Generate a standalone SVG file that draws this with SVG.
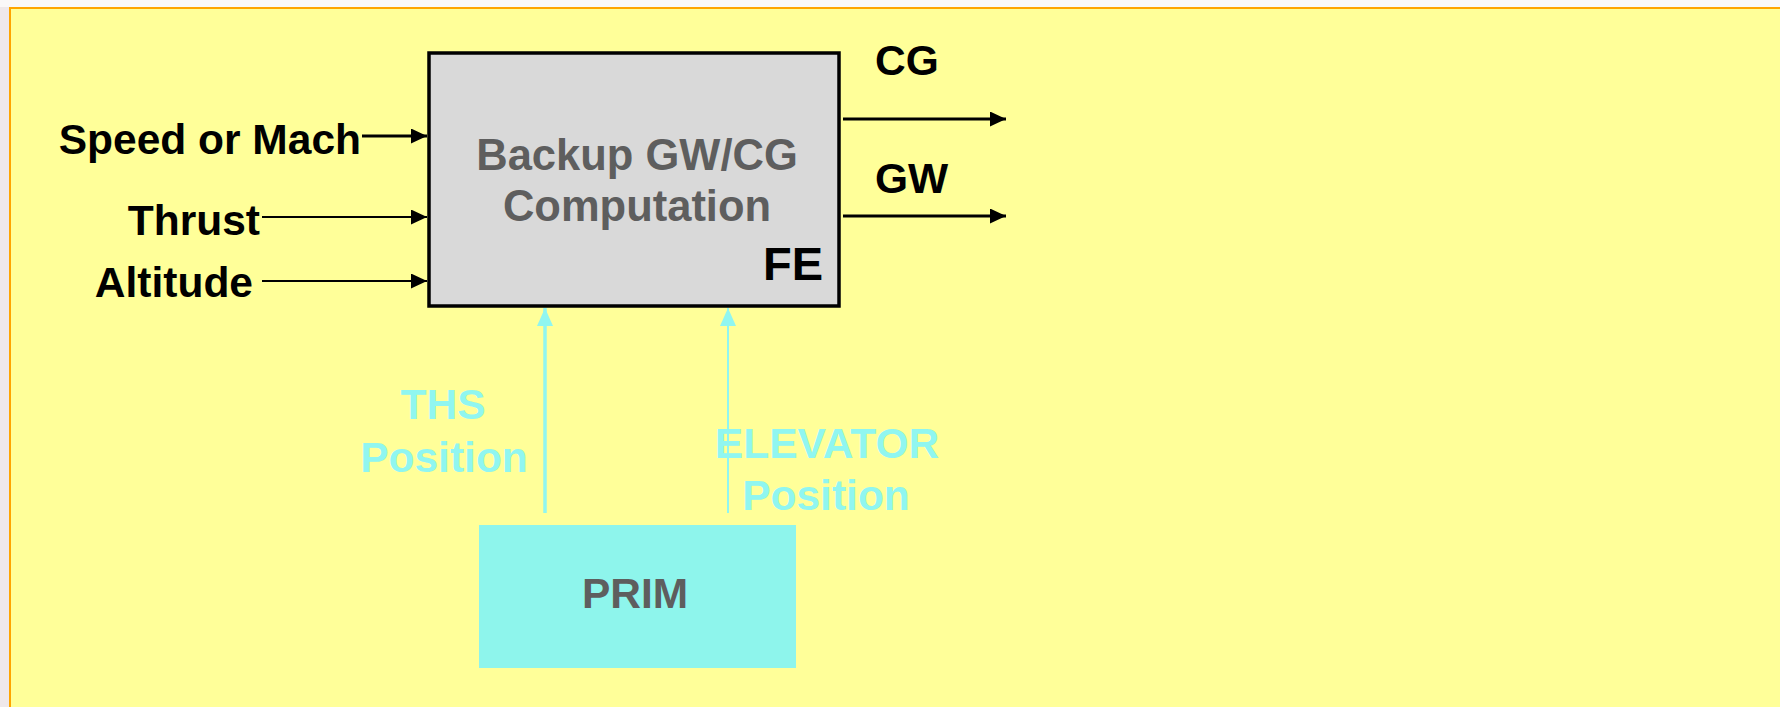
<svg xmlns="http://www.w3.org/2000/svg" width="1780" height="707" viewBox="0 0 1780 707">
<defs>
<marker id="ah" viewBox="0 0 10 10" refX="10" refY="5" markerWidth="16" markerHeight="15" markerUnits="userSpaceOnUse" orient="auto" preserveAspectRatio="none"><path d="M0,0 L10,5 L0,10 z" fill="#000"/></marker>
<marker id="ahc" viewBox="0 0 10 10" refX="10" refY="5" markerWidth="18" markerHeight="16" markerUnits="userSpaceOnUse" orient="auto" preserveAspectRatio="none"><path d="M0,0 L10,5 L0,10 z" fill="#90f6f0"/></marker>
<style>
.t{font-family:"Liberation Sans",Arial,sans-serif;font-weight:bold;font-size:42.5px}
.blk{fill:#000}
.gry{fill:#5e5e5e}
.cy{fill:#90f6f0}
.k{stroke:#000;fill:none}
.c{stroke:#90f6f0;fill:none}
</style>
</defs>
<rect x="0" y="0" width="1780" height="707" fill="#faf8f8"/>
<rect x="0" y="7" width="10" height="700" fill="#efe8ea"/>
<rect x="10" y="8" width="1775" height="705" fill="#ffff99" stroke="#ffa500" stroke-width="2"/>

<g id="fe-box">
<rect x="429" y="53" width="410" height="253" fill="#d9d9d9" stroke="#000" stroke-width="3.5"/>
<text class="t gry" x="637" y="170" text-anchor="middle" style="font-size:43.5px">Backup GW/CG</text>
<text class="t gry" x="637" y="221" text-anchor="middle" style="font-size:43.5px">Computation</text>
<text class="t blk" x="823" y="280" text-anchor="end" style="font-size:47px">FE</text>
</g>

<g id="prim">
<rect x="479" y="525" width="317" height="143" fill="#8ef5ec"/>
<text class="t gry" x="635" y="608" text-anchor="middle">PRIM</text>
</g>

<g id="labels">
<text class="t blk" x="361" y="154" text-anchor="end">Speed or Mach</text>
<text class="t blk" x="260" y="235" text-anchor="end">Thrust</text>
<text class="t blk" x="253" y="297" text-anchor="end">Altitude</text>
<text class="t blk" x="875" y="75">CG</text>
<text class="t blk" x="875" y="193">GW</text>
<text class="t cy" x="443" y="419" text-anchor="middle">THS</text>
<text class="t cy" x="444" y="472" text-anchor="middle">Position</text>
<text class="t cy" x="827" y="458" text-anchor="middle">ELEVATOR</text>
<text class="t cy" x="826" y="510" text-anchor="middle">Position</text>
</g>

<g id="connectors">
<line class="k" x1="362" y1="136" x2="427" y2="136" stroke-width="3" marker-end="url(#ah)"/>
<line class="k" x1="262" y1="217" x2="427" y2="217" stroke-width="2" marker-end="url(#ah)"/>
<line class="k" x1="262" y1="281" x2="427" y2="281" stroke-width="2" marker-end="url(#ah)"/>
<line class="k" x1="843" y1="119" x2="1006" y2="119" stroke-width="3" marker-end="url(#ah)"/>
<line class="k" x1="843" y1="216" x2="1006" y2="216" stroke-width="3" marker-end="url(#ah)"/>
<line class="c" x1="545" y1="513" x2="545" y2="308" stroke-width="3.5" marker-end="url(#ahc)"/>
<line class="c" x1="728" y1="513" x2="728" y2="308" stroke-width="2" marker-end="url(#ahc)"/>
</g>
</svg>
